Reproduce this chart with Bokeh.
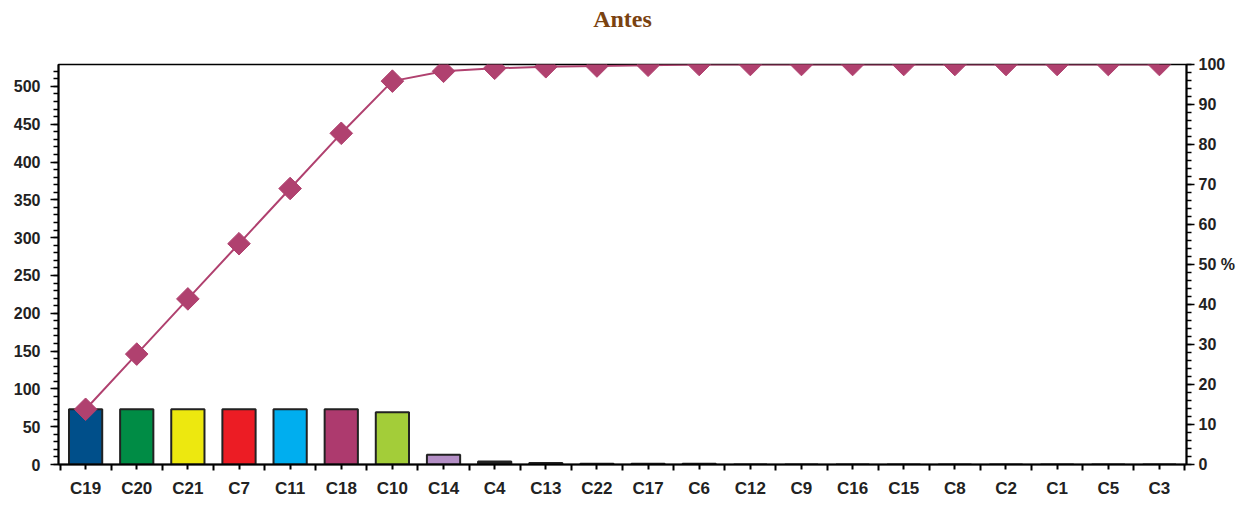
import numpy as np
from bokeh.plotting import figure
from bokeh.models import (Range1d, LinearAxis, FixedTicker, ColumnDataSource, Title)
from bokeh.embed import file_html
from bokeh.resources import INLINE

title_text = "Antes"
categories = ["C19", "C20", "C21", "C7", "C11", "C18", "C10", "C14", "C4", "C13", "C22",
              "C17", "C6", "C12", "C9", "C16", "C15", "C8", "C2", "C1", "C5", "C3"]
counts = [73, 73, 73, 73, 73, 73, 69, 13, 4, 2, 1, 1, 1, 0, 0, 0, 0, 0, 0, 0, 0, 0]
bar_colors = ["#004f8a", "#008c45", "#ede80f", "#ec1c24", "#00aeef", "#ad3a6e", "#a3cd39",
              "#b48fc6", "#222222", "#222222", "#222222", "#222222", "#222222", "#222222",
              "#222222", "#222222", "#222222", "#222222", "#222222", "#222222", "#222222", "#222222"]
left_ticks = [0, 50, 100, 150, 200, 250, 300, 350, 400, 450, 500]
right_ticks = [0, 10, 20, 30, 40, 50, 60, 70, 80, 90, 100]

total = sum(counts)
cum_pct = list(np.cumsum(counts) / total * 100)
xs = list(range(len(categories)))

src = ColumnDataSource(dict(x=xs, top=counts, color=bar_colors, pct=cum_pct))

W, H = 1237, 500
p = figure(width=W, height=H, output_backend="svg", toolbar_location=None,
           x_range=Range1d(-0.53, len(categories) - 0.47), y_range=Range1d(0, total),
           min_border_left=58, min_border_right=50, min_border_top=64, min_border_bottom=34)
p.extra_y_ranges = {"pct": Range1d(0, 100)}

# spacer panel next to the frame (white blank text), then the real title stacked above it
p.add_layout(Title(text=" ", text_font_size="10px", standoff=20, text_color="white"), "above")
p.add_layout(Title(text=title_text, align="center", text_font="Liberation Serif",
                   text_font_size="24px", text_font_style="bold", text_color="#7a4210",
                   offset=0, standoff=0), "above")

p.grid.visible = False
p.outline_line_color = "black"
p.outline_line_width = 1.5
p.background_fill_color = "white"
p.border_fill_color = "white"

p.vbar(x="x", top="top", width=0.65, bottom=0, fill_color="color", line_color="#222222",
       line_width=2, source=src)
p.line(x="x", y="pct", y_range_name="pct", line_color="#b0416f", line_width=2, source=src)
p.scatter(x="x", y="pct", y_range_name="pct", marker="square", angle=np.pi / 4, size=16,
          fill_color="#b0416f", line_color="#b0416f", source=src)

label_font = "Liberation Sans"
# x axis
xa = p.xaxis[0]
xa.ticker = FixedTicker(ticks=xs, minor_ticks=[i - 0.5 for i in range(len(categories) + 1)])
xa.major_label_overrides = {i: c for i, c in enumerate(categories)}
xa.major_label_text_font = label_font
xa.major_label_text_font_style = "bold"
xa.major_label_text_font_size = "17px"
xa.major_label_text_color = "#222222"
xa.major_tick_in = 0
xa.major_tick_out = 5
xa.minor_tick_in = 0
xa.minor_tick_out = 6
xa.axis_line_width = 2
xa.major_tick_line_width = 2
xa.minor_tick_line_width = 2
xa.major_label_standoff = 8

# left axis
ya = p.yaxis[0]
ya.ticker = FixedTicker(ticks=left_ticks, minor_ticks=list(range(0, 530, 10)))
ya.major_label_text_font = label_font
ya.major_label_text_font_style = "bold"
ya.major_label_text_font_size = "16px"
ya.major_label_text_color = "#222222"
ya.major_tick_in = 0
ya.major_tick_out = 8
ya.minor_tick_in = 0
ya.minor_tick_out = 5
ya.axis_line_width = 2
ya.major_tick_line_width = 1.5
ya.minor_tick_line_width = 1.5
ya.major_label_standoff = 10

# right axis
ra = LinearAxis(y_range_name="pct")
ra.ticker = FixedTicker(ticks=right_ticks, minor_ticks=list(range(0, 101, 2)))
ra.major_label_overrides = {50: "50 %"}
ra.major_label_text_font = label_font
ra.major_label_text_font_style = "bold"
ra.major_label_text_font_size = "16px"
ra.major_label_text_color = "#222222"
ra.major_tick_in = 0
ra.major_tick_out = 8
ra.minor_tick_in = 0
ra.minor_tick_out = 5
ra.axis_line_width = 2
ra.major_tick_line_width = 1.5
ra.minor_tick_line_width = 1.5
ra.major_label_standoff = 4
p.add_layout(ra, "right")

open("out.html", "w").write(file_html(p, INLINE))
